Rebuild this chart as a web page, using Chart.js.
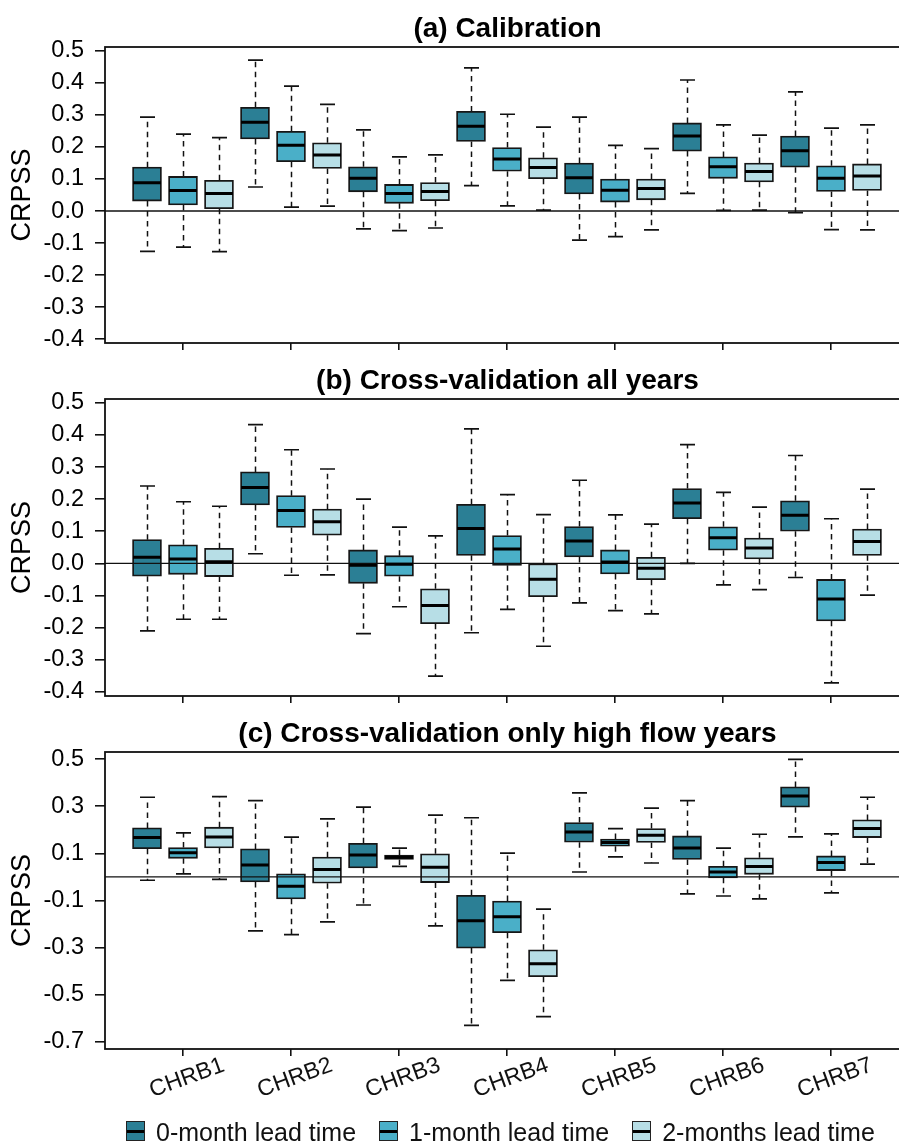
<!DOCTYPE html>
<html>
<head>
<meta charset="utf-8">
<script src="https://cdn.jsdelivr.net/npm/chart.js@4.4.1/dist/chart.umd.min.js"></script>
<style>
  html, body { margin: 0; padding: 0; background: #fff; overflow: hidden; width: 899px; height: 1143px; }
  .panel { position: absolute; left: 0; }
  #legend { position: absolute; left: 126px; top: 1120px; display: flex; font-family: "Liberation Sans", Arial, sans-serif; font-size: 25px; line-height: 25px; color: #111; white-space: nowrap; }
  .item { display: flex; align-items: flex-start; margin-right: 23px; }
  .swatch { width: 19px; height: 20px; border: 1.5px solid #222; box-sizing: border-box; margin-top: 1px; margin-right: 11px; position: relative; }
  .swatch::after { content: ""; position: absolute; left: 0; right: 0; top: 50%; height: 3px; margin-top: -1.5px; background: #000; }
</style>
</head>
<body>
<div class="panel" style="top:0px"><canvas id="cA" width="910" height="380"></canvas></div>
<div class="panel" style="top:352px"><canvas id="cB" width="910" height="381"></canvas></div>
<div class="panel" style="top:705px"><canvas id="cC" width="910" height="438"></canvas></div>
<div id="legend"></div>
<script>
// Basins and lead times; boxes ordered basin by basin, lead 0/1/2 inside each basin
const basins = ["CHRB1", "CHRB2", "CHRB3", "CHRB4", "CHRB5", "CHRB6", "CHRB7"];
const leadTimes = ["0-month lead time", "1-month lead time", "2-months lead time"];
const leadColors = ["#2b7f95", "#4aafc8", "#b7dee6"];

// (a) Calibration
const calMax = [0.293, 0.240, 0.229, 0.471, 0.390, 0.333, 0.253, 0.169, 0.175, 0.447, 0.302, 0.262, 0.293, 0.205, 0.195, 0.409, 0.269, 0.237, 0.372, 0.259, 0.269];
const calQ3  = [0.137, 0.108, 0.096, 0.324, 0.249, 0.213, 0.138, 0.083, 0.089, 0.311, 0.198, 0.166, 0.150, 0.100, 0.100, 0.275, 0.169, 0.150, 0.234, 0.141, 0.147];
const calMed = [0.088, 0.064, 0.055, 0.277, 0.205, 0.175, 0.102, 0.055, 0.061, 0.265, 0.162, 0.136, 0.104, 0.065, 0.070, 0.234, 0.138, 0.123, 0.188, 0.102, 0.109];
const calQ1  = [0.031, 0.019, 0.007, 0.225, 0.154, 0.133, 0.060, 0.024, 0.032, 0.217, 0.124, 0.101, 0.053, 0.028, 0.035, 0.187, 0.102, 0.091, 0.137, 0.061, 0.064];
const calMin = [-0.126, -0.113, -0.127, 0.075, 0.012, 0.015, -0.056, -0.061, -0.053, 0.079, 0.016, 0.003, -0.091, -0.080, -0.059, 0.055, 0.002, 0.003, -0.005, -0.058, -0.059];

// (b) Cross-validation all years
const cvMax = [0.241, 0.192, 0.178, 0.432, 0.354, 0.294, 0.200, 0.113, 0.086, 0.419, 0.214, 0.152, 0.259, 0.151, 0.122, 0.370, 0.221, 0.175, 0.336, 0.139, 0.231];
const cvQ3  = [0.074, 0.058, 0.047, 0.285, 0.211, 0.169, 0.042, 0.024, -0.079, 0.184, 0.087, -0.001, 0.115, 0.042, 0.019, 0.233, 0.114, 0.079, 0.195, -0.050, 0.107];
const cvMed = [0.019, 0.014, 0.005, 0.236, 0.165, 0.130, -0.006, -0.003, -0.131, 0.109, 0.045, -0.049, 0.070, 0.004, -0.015, 0.188, 0.080, 0.048, 0.150, -0.111, 0.068];
const cvQ1  = [-0.040, -0.034, -0.041, 0.182, 0.112, 0.088, -0.062, -0.040, -0.188, 0.025, -0.006, -0.104, 0.020, -0.033, -0.051, 0.139, 0.041, 0.014, 0.100, -0.179, 0.025];
const cvMin = [-0.210, -0.174, -0.174, 0.030, -0.037, -0.036, -0.219, -0.135, -0.351, -0.216, -0.143, -0.258, -0.123, -0.147, -0.157, 0.000, -0.067, -0.082, -0.044, -0.372, -0.099];

// (c) Cross-validation only high flow years
const hfMax = [0.338, 0.187, 0.341, 0.324, 0.169, 0.246, 0.296, 0.122, 0.262, 0.251, 0.101, -0.137, 0.357, 0.205, 0.292, 0.324, 0.122, 0.181, 0.499, 0.183, 0.338];
const hfQ3  = [0.208, 0.125, 0.211, 0.119, 0.013, 0.084, 0.143, 0.093, 0.098, -0.078, -0.102, -0.309, 0.231, 0.161, 0.205, 0.174, 0.045, 0.081, 0.382, 0.089, 0.242];
const hfMed = [0.167, 0.103, 0.169, 0.051, -0.040, 0.031, 0.093, 0.084, 0.041, -0.186, -0.169, -0.368, 0.191, 0.146, 0.177, 0.123, 0.021, 0.044, 0.343, 0.061, 0.205];
const hfQ1  = [0.120, 0.079, 0.123, -0.021, -0.093, -0.027, 0.038, 0.074, -0.024, -0.302, -0.237, -0.423, 0.147, 0.130, 0.146, 0.074, -0.004, 0.011, 0.296, 0.027, 0.167];
const hfMin = [-0.014, 0.013, -0.010, -0.229, -0.245, -0.191, -0.119, 0.045, -0.208, -0.630, -0.439, -0.593, 0.021, 0.085, 0.059, -0.072, -0.081, -0.093, 0.170, -0.068, 0.054];

// y-axis tick values per panel
const ticksAB = [-0.4, -0.3, -0.2, -0.1, 0.0, 0.1, 0.2, 0.3, 0.4, 0.5];
const ticksC = [-0.7, -0.5, -0.3, -0.1, 0.1, 0.3, 0.5];

const FONT = '"Liberation Sans", Arial, Helvetica, sans-serif';
const INK = '#111';

// Whiskers, caps, medians, zero line, frame, title and rotated basin labels
const boxPlugin = {
  id: 'boxWhiskers',
  beforeDatasetsDraw(chart, args, opts) {
    const {ctx} = chart;
    const xs = chart.scales.x, ys = chart.scales.y;
    const s = opts.stats;
    ctx.save();
    ctx.strokeStyle = INK;
    for (let i = 0; i < s.med.length; i++) {
      const px = Math.round(xs.getPixelForValue(i + 1)) + 0.5;
      // dashed whisker stems
      ctx.setLineDash([5.5, 4.5]);
      ctx.lineWidth = 1.5;
      ctx.beginPath();
      ctx.moveTo(px, ys.getPixelForValue(s.q3[i]));
      ctx.lineTo(px, ys.getPixelForValue(s.max[i]));
      ctx.moveTo(px, ys.getPixelForValue(s.q1[i]));
      ctx.lineTo(px, ys.getPixelForValue(s.min[i]));
      ctx.stroke();
      // whisker caps
      ctx.setLineDash([]);
      ctx.lineWidth = 1.7;
      ctx.beginPath();
      const yMax = ys.getPixelForValue(s.max[i]), yMin = ys.getPixelForValue(s.min[i]);
      ctx.moveTo(px - 7.5, yMax); ctx.lineTo(px + 7.5, yMax);
      ctx.moveTo(px - 7.5, yMin); ctx.lineTo(px + 7.5, yMin);
      ctx.stroke();
    }
    ctx.restore();
  },
  afterDatasetsDraw(chart, args, opts) {
    const {ctx, chartArea: a} = chart;
    const xs = chart.scales.x, ys = chart.scales.y;
    const s = opts.stats;
    ctx.save();
    // reference line at zero
    const y0 = ys.getPixelForValue(0);
    ctx.strokeStyle = INK;
    ctx.lineWidth = 1.3;
    ctx.beginPath();
    ctx.moveTo(a.left, y0); ctx.lineTo(a.right, y0);
    ctx.stroke();
    // medians
    ctx.strokeStyle = '#000';
    ctx.lineWidth = 3;
    ctx.beginPath();
    for (let i = 0; i < s.med.length; i++) {
      const px = xs.getPixelForValue(i + 1);
      const py = ys.getPixelForValue(s.med[i]);
      ctx.moveTo(px - 14, py); ctx.lineTo(px + 14, py);
    }
    ctx.stroke();
    // plot frame
    ctx.strokeStyle = INK;
    ctx.lineWidth = 1.8;
    ctx.strokeRect(a.left, a.top, a.right - a.left, a.bottom - a.top);
    ctx.restore();
  },
  afterDraw(chart, args, opts) {
    const {ctx, chartArea: a} = chart;
    ctx.save();
    ctx.fillStyle = '#000';
    ctx.font = 'bold 28px ' + FONT;
    ctx.textAlign = 'center';
    ctx.textBaseline = 'alphabetic';
    ctx.fillText(opts.title, (a.left + a.right) / 2, a.top - 10);
    if (opts.basinLabels) {
      const xs = chart.scales.x;
      ctx.font = '23px ' + FONT;
      ctx.fillStyle = INK;
      ctx.textBaseline = 'middle';
      basins.forEach((b, k) => {
        const px = xs.getPixelForValue(k * 3 + 2) + 4;
        ctx.save();
        ctx.translate(px, a.bottom + 29);
        ctx.rotate(-20 * Math.PI / 180);
        ctx.fillText(b, 0, 0);
        ctx.restore();
      });
    }
    ctx.restore();
  }
};

function makePanel(id, title, stats, yTicks, yMin, yMax, xHeight, basinLabels) {
  const datasets = leadTimes.map((lt, lead) => ({
    label: lt,
    backgroundColor: leadColors[lead],
    borderColor: '#161616',
    borderWidth: 1.8,
    borderSkipped: false,
    barThickness: 29,
    grouped: false,
    data: stats.med.map((m, i) => (i % 3 === lead ? {x: i + 1, y: [stats.q1[i], stats.q3[i]]} : null)).filter(d => d)
  }));
  return new Chart(document.getElementById(id), {
    type: 'bar',
    data: {datasets},
    options: {
      responsive: false,
      animation: false,
      events: [],
      layout: {padding: {top: 47, left: 0, right: 0, bottom: 0}},
      plugins: {
        legend: {display: false},
        tooltip: {enabled: false},
        boxWhiskers: {title, stats, basinLabels}
      },
      scales: {
        x: {
          type: 'linear',
          offset: false,
          min: 1 - 42 / 36,
          max: 1 - 42 / 36 + 805 / 36,
          afterBuildTicks: sc => { sc.ticks = basins.map((b, k) => ({value: k * 3 + 2})); },
          afterFit: sc => { sc.height = xHeight; },
          ticks: {display: false},
          grid: {drawOnChartArea: false, drawTicks: true, tickLength: 7, color: INK, lineWidth: 1.6, offset: false},
          border: {display: false}
        },
        y: {
          type: 'linear',
          min: yMin,
          max: yMax,
          afterBuildTicks: sc => { sc.ticks = yTicks.map(v => ({value: v})); },
          afterFit: sc => { sc.width = 105; },
          ticks: {
            color: '#000',
            font: {family: FONT, size: 23.5},
            padding: 11,
            callback: v => v.toFixed(1)
          },
          grid: {drawOnChartArea: false, drawTicks: true, tickLength: 10, color: INK, lineWidth: 1.6},
          border: {display: false},
          title: {display: true, text: 'CRPSS', color: '#000', font: {family: FONT, size: 27}, padding: {top: 6, bottom: 0}}
        }
      }
    },
    plugins: [boxPlugin]
  });
}

makePanel('cA', '(a) Calibration', {min: calMin, q1: calQ1, med: calMed, q3: calQ3, max: calMax}, ticksAB, -0.412, 0.512, 37, false);
makePanel('cB', '(b) Cross-validation all years', {min: cvMin, q1: cvQ1, med: cvMed, q3: cvQ3, max: cvMax}, ticksAB, -0.413, 0.512, 37, false);
makePanel('cC', '(c) Cross-validation only high flow years', {min: hfMin, q1: hfQ1, med: hfMed, q3: hfQ3, max: hfMax}, ticksC, -0.73, 0.53, 94, true);

// legend with box-and-median swatches
const legend = document.getElementById('legend');
leadTimes.forEach((lt, lead) => {
  const item = document.createElement('div');
  item.className = 'item';
  const sw = document.createElement('div');
  sw.className = 'swatch';
  sw.style.background = leadColors[lead];
  const tx = document.createElement('span');
  tx.textContent = lt;
  item.appendChild(sw);
  item.appendChild(tx);
  legend.appendChild(item);
});
</script>
</body>
</html>
